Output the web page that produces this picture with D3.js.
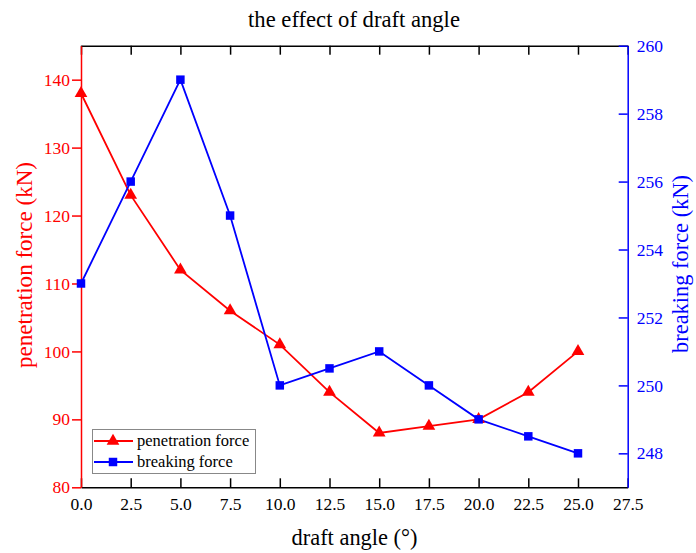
<!DOCTYPE html>
<html><head><meta charset="utf-8">
<script src="https://cdn.jsdelivr.net/npm/d3@7"></script>
<style>body{margin:0;background:#fff}svg{display:block}text{font-family:"Liberation Serif","Times New Roman",serif}</style>
</head><body>
<svg id="c" width="696" height="553"></svg>
<script>
const angles = [0, 2.5, 5, 7.5, 10, 12.5, 15, 17.5, 20, 22.5, 25];
const penetration = [138, 123, 112, 106, 101, 94, 88, 89, 90, 94, 100];
const breaking = [253, 256, 259, 255, 250, 250.5, 251, 250, 249, 248.5, 248];
const xTicks = [0, 2.5, 5, 7.5, 10, 12.5, 15, 17.5, 20, 22.5, 25, 27.5];
const leftTicks = [80, 90, 100, 110, 120, 130, 140];
const rightTicks = [248, 250, 252, 254, 256, 258, 260];

const svg = d3.select("#c");
const L = 81, R = 627.7, T = 45.7, B = 487.3;
const x = d3.scaleLinear().domain([0, 27.5]).range([L, R]);
const yL = d3.scaleLinear().domain([80, 145]).range([B, T]);
const yR = d3.scaleLinear().domain([247, 260]).range([B, T]);
const RED = "#ff0000", BLUE = "#0000ff";

// bottom axis
const gx = svg.append("g").attr("transform", `translate(0,${B})`)
  .call(d3.axisBottom(x).tickValues(xTicks).tickFormat(d3.format(".1f")).tickSizeInner(-9).tickSizeOuter(0).tickPadding(10));
gx.selectAll("text").attr("font-size", 17.5).attr("fill", "#000");
gx.selectAll("line, path").attr("stroke", "#000").attr("stroke-width", 1.5);
// top axis
const gt = svg.append("g").attr("transform", `translate(0,${T})`)
  .call(d3.axisTop(x).tickValues(xTicks).tickFormat("").tickSizeInner(-9).tickSizeOuter(0));
gt.selectAll("line, path").attr("stroke", "#000").attr("stroke-width", 1.5);
// left axis
const gl = svg.append("g").attr("transform", `translate(${L},0)`)
  .call(d3.axisLeft(yL).tickValues(leftTicks).tickSizeInner(9).tickSizeOuter(0).tickPadding(2));
gl.selectAll("text").attr("font-size", 17.5).attr("fill", RED);
gl.selectAll("line, path").attr("stroke", RED).attr("stroke-width", 1.5);
// right axis
const gr = svg.append("g").attr("transform", `translate(${R},0)`)
  .call(d3.axisRight(yR).tickValues(rightTicks).tickSizeInner(-9).tickSizeOuter(0).tickPadding(9));
gr.selectAll("text").attr("font-size", 17.5).attr("fill", BLUE);
gr.selectAll("line, path").attr("stroke", BLUE).attr("stroke-width", 1.5);

// lines
const lineP = d3.line().x((d, i) => x(angles[i])).y(d => yL(d));
const lineB = d3.line().x((d, i) => x(angles[i])).y(d => yR(d));
svg.append("path").datum(penetration).attr("d", lineP).attr("fill", "none").attr("stroke", RED).attr("stroke-width", 1.8);
svg.append("path").datum(breaking).attr("d", lineB).attr("fill", "none").attr("stroke", BLUE).attr("stroke-width", 1.8);
const tri = d3.symbol().type(d3.symbolTriangle).size(70);
const sq = d3.symbol().type(d3.symbolSquare).size(72);
svg.append("g").selectAll("path").data(penetration).join("path")
  .attr("d", tri).attr("transform", (d, i) => `translate(${x(angles[i])},${yL(d)})`).attr("fill", RED);
svg.append("g").selectAll("path").data(breaking).join("path")
  .attr("d", sq).attr("transform", (d, i) => `translate(${x(angles[i])},${yR(d)})`).attr("fill", BLUE);

// fit font size so the text spans a target length
function fit(sel, target) {
  const n = sel.node();
  const base = 20;
  sel.attr("font-size", base);
  const w = n.getComputedTextLength();
  sel.attr("font-size", (base * target / w).toFixed(2));
  return sel;
}
// titles
fit(svg.append("text").attr("x", 354).attr("y", 27).attr("text-anchor", "middle").text("the effect of draft angle"), 212);
fit(svg.append("text").attr("x", 354.5).attr("y", 545).attr("text-anchor", "middle").text("draft angle (°)"), 126);
fit(svg.append("text").attr("transform", `translate(32,265) rotate(-90)`).attr("text-anchor", "middle").attr("fill", RED).text("penetration force (kN)"), 206);
fit(svg.append("text").attr("transform", `translate(688,264) rotate(-90)`).attr("text-anchor", "middle").attr("fill", BLUE).text("breaking force (kN)"), 178);

// legend
const lg = svg.append("g");
lg.append("rect").attr("x", 92.5).attr("y", 429.5).attr("width", 163).attr("height", 44).attr("fill", "#fff").attr("stroke", "#888").attr("stroke-width", 1);
const items = [{name: "penetration force", c: RED, s: tri}, {name: "breaking force", c: BLUE, s: sq}];
items.forEach((it, i) => {
  const yy = 441 + i * 21;
  lg.append("line").attr("x1", 94).attr("x2", 133).attr("y1", yy).attr("y2", yy).attr("stroke", it.c).attr("stroke-width", 1.8);
  lg.append("path").attr("d", it.s).attr("transform", `translate(113,${yy})`).attr("fill", it.c);
  lg.append("text").attr("x", 137).attr("y", yy + 5).attr("font-size", 16.5).text(it.name);
});
</script>
</body></html>
